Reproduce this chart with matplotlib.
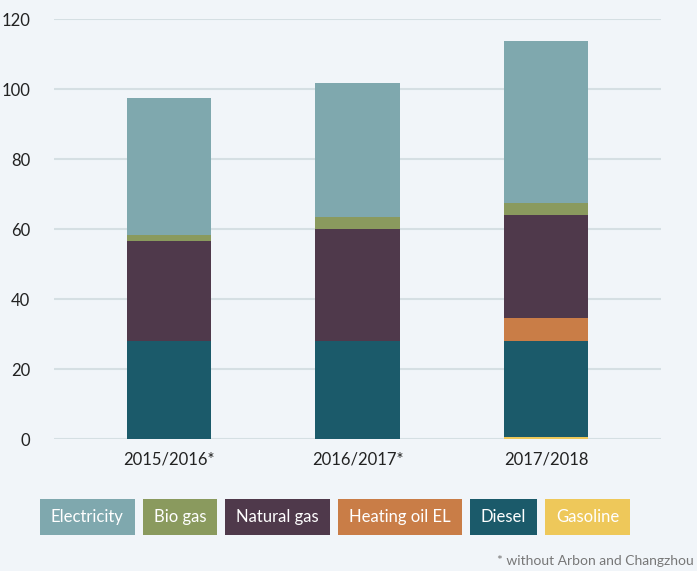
import matplotlib
matplotlib.use("Agg")
import matplotlib.pyplot as plt
from matplotlib.patches import Rectangle
import numpy as np

# ---- data ----
years = ["2015/2016*", "2016/2017*", "2017/2018"]
series_names = ["Gasoline", "Diesel", "Heating oil EL", "Natural gas", "Bio gas", "Electricity"]
gasoline = [0.0, 0.0, 0.5]
diesel = [27.9, 27.9, 27.5]
heating_oil = [0.0, 0.0, 6.6]
natural_gas = [28.7, 32.1, 29.4]
bio_gas = [1.7, 3.4, 3.4]
electricity = [39.1, 38.2, 46.2]
yticks = [0, 20, 40, 60, 80, 100, 120]
legend_order = ["Electricity", "Bio gas", "Natural gas", "Heating oil EL", "Diesel", "Gasoline"]
footnote = "* without Arbon and Changzhou"

colors = {
    "Electricity": "#7FA8AE",
    "Bio gas": "#8A9A5E",
    "Natural gas": "#4F394B",
    "Heating oil EL": "#C97D47",
    "Diesel": "#1B5A6A",
    "Gasoline": "#EEC85A",
}
values = {
    "Gasoline": gasoline, "Diesel": diesel, "Heating oil EL": heating_oil,
    "Natural gas": natural_gas, "Bio gas": bio_gas, "Electricity": electricity,
}

BG = "#F1F5F9"
FONT = "Lato"
plt.rcParams["font.family"] = [FONT, "DejaVu Sans"]

fig = plt.figure(figsize=(6.97, 5.71), dpi=100, facecolor=BG)
ax = fig.add_axes([54/697, 132/571, (661-54)/697, (439-19)/571], facecolor=BG)

x = np.arange(len(years))
bottom = np.zeros(len(years))
for name in series_names:
    v = np.array(values[name])
    ax.bar(x, v, bottom=bottom, width=0.45, color=colors[name], zorder=3, linewidth=0)
    bottom += v

ax.set_xlim(-0.61, 2.61)
ax.set_ylim(0, 120)
ax.set_yticks(yticks)
ax.set_xticks(x)
ax.set_xticklabels(years)
ax.grid(axis="y", color="#D5DFE3", linewidth=1.5, zorder=0)
ax.set_axisbelow(True)
for s in ax.spines.values():
    s.set_visible(False)
ax.tick_params(axis="both", length=0, labelsize=12, colors="#222222")
ax.tick_params(axis="y", pad=17)
ax.tick_params(axis="x", pad=9)
for lbl in ax.get_yticklabels():
    lbl.set_horizontalalignment("right")

# ---- legend as coloured boxes ----
fig.canvas.draw()
renderer = fig.canvas.get_renderer()
W, H = 697, 571
xpos = 40
y0, y1 = 499, 535
pad = 11
gap = 8
for name in legend_order:
    t = fig.text(0, 0, name, fontsize=12, color="white", va="center", ha="center")
    tw = t.get_window_extent(renderer).width
    bw = tw + 2 * pad
    rect = Rectangle((xpos / W, 1 - y1 / H), bw / W, (y1 - y0) / H,
                     transform=fig.transFigure, facecolor=colors[name],
                     edgecolor="none", zorder=1)
    fig.add_artist(rect)
    t.set_position(((xpos + bw / 2) / W, 1 - (y0 + y1) / 2 / H))
    t.set_zorder(2)
    xpos += bw + gap

fig.text(694 / W, 1 - 561 / H, footnote, fontsize=10, color="#777777", va="center", ha="right")

fig.savefig("out.png", dpi=100, facecolor=BG)
